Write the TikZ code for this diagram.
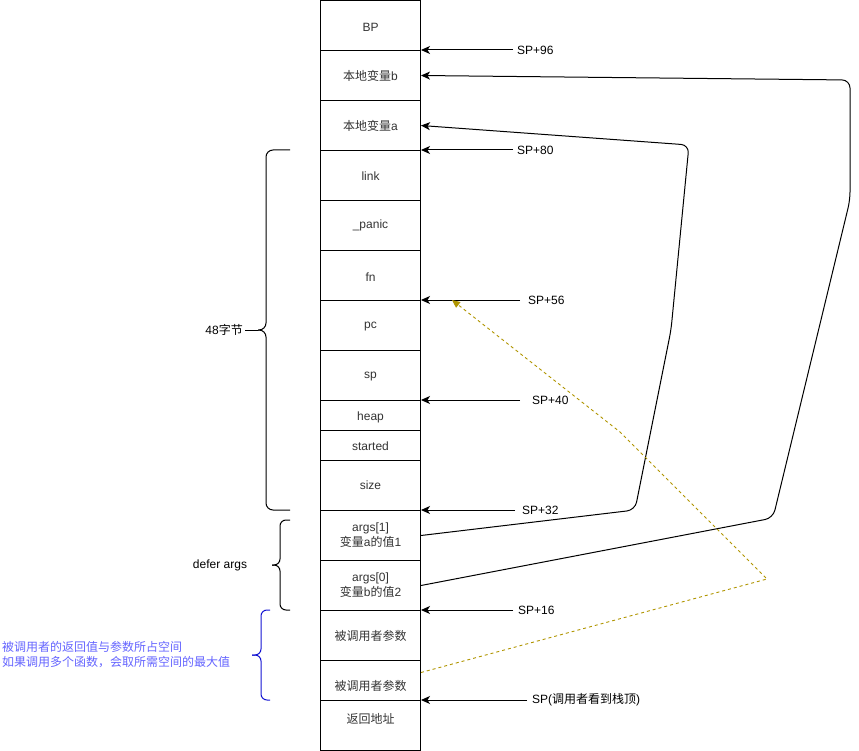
\documentclass[tikz,border=0pt]{standalone}
\usepackage{fontspec}
\setmainfont{Liberation Sans}
\newfontfamily\cjk{Noto Sans CJK SC}
\usetikzlibrary{arrows.meta,calc}
\definecolor{olivel}{HTML}{B09500}
\definecolor{bluebr}{RGB}{20,20,210}
\definecolor{bluetx}{RGB}{100,100,255}
\definecolor{celltx}{HTML}{333333}
\begin{document}
\begin{tikzpicture}[x=1pt,y=-1pt,
  every node/.style={font=\fontsize{12}{15}\selectfont},
  cell/.style={draw,line width=1pt,minimum width=100pt,inner sep=0pt,text=celltx,align=center,anchor=north west},
  sparrow/.style={-{Stealth[length=9pt,width=8pt,inset=2.5pt]},line width=1pt},
  splabel/.style={anchor=west,inner ysep=1pt},
  brace/.style={line width=1pt,rounded corners=7pt},
  olivedash/.style={draw=olivel,line width=0.9pt,dash pattern=on 3pt off 3pt,-{Triangle[length=8pt,width=7pt,fill=olivel]}}]
\useasboundingbox (0,0) rectangle (859,751);

% stack cells
\node[cell,minimum height=50pt] (bp) at (320,0) {\raisebox{-1.5pt}[\height][\depth]{BP}};
\node[cell,minimum height=50pt] (vb) at (320,50) {{\cjk 本地变量}b};
\node[cell,minimum height=50pt] (va) at (320,100) {{\cjk 本地变量}a};
\node[cell,minimum height=50pt] (link) at (320,150) {\raisebox{-1pt}[\height][\depth]{link}};
\node[cell,minimum height=50pt] (panic) at (320,200) {\_panic};
\node[cell,minimum height=50pt] (fn) at (320,250) {\raisebox{-1.5pt}[\height][\depth]{fn}};
\node[cell,minimum height=50pt] (pc) at (320,300) {\raisebox{-1.5pt}[\height][\depth]{pc}};
\node[cell,minimum height=50pt] (sp) at (320,350) {\raisebox{-1.5pt}[\height][\depth]{sp}};
\node[cell,minimum height=30pt] (heap) at (320,400) {\raisebox{-1.5pt}[\height][\depth]{heap}};
\node[cell,minimum height=30pt] (started) at (320,430) {\raisebox{-1pt}[\height][\depth]{started}};
\node[cell,minimum height=50pt] (size) at (320,460) {size};
\node[cell,minimum height=50pt] (aone) at (320,510) {args[1]\\{\cjk 变量}a{\cjk 的值}1};
\node[cell,minimum height=50pt] (azero) at (320,560) {args[0]\\{\cjk 变量}b{\cjk 的值}2};
\node[cell,minimum height=50pt] (pone) at (320,610) {{\cjk 被调用者参数}};
\node[cell,minimum height=40pt] (ptwo) at (320,660) {\raisebox{-5pt}[\height][\depth]{\cjk 被调用者参数}};
\node[cell,minimum height=50pt] (ret) at (320,700) {\raisebox{7pt}[\height][\depth]{\cjk 返回地址}};

% SP labels and arrows
\node[splabel,inner xsep=4pt] (s96) at (513,50) {SP+96};
\node[splabel,inner xsep=4pt] (s80) at (513,150) {SP+80};
\node[splabel,inner xsep=8pt] (s56) at (520,300) {SP+56};
\node[splabel,inner xsep=12pt] (s40) at (520,400) {SP+40};
\node[splabel,inner xsep=7pt] (s32) at (515,510) {SP+32};
\node[splabel,inner xsep=5pt] (s16) at (513,610) {SP+16};
\node[splabel,inner xsep=5pt] (s0) at (527,700) {SP({\cjk 调用者看到栈顶})};
\draw[sparrow] (s96.west) -- (vb.north east);
\draw[sparrow] (s80.west) -- (link.north east);
\draw[sparrow] (s56.west) -- (pc.north east);
\draw[sparrow] (s40.west) -- (heap.north east);
\draw[sparrow] (s32.west) -- (aone.north east);
\draw[sparrow] (s16.west) -- (pone.north east);
\draw[sparrow] (s0.west) -- (ret.north east);

% long connectors
\draw[sparrow,rounded corners=8pt] (aone.east) -- (635,510) -- (671,330) -- (689,145) -- (va.east);
\draw[sparrow,rounded corners=8pt] (azero.east) -- (773,518) -- (850,200) -- (850,80) -- (vb.east);

% dashed olive connector
\coordinate (dstart) at ($(ptwo.east)+(0,-8)$);
\coordinate (dend) at (452,300);
\draw[olivedash] (dstart) -- (767,579) -- (620,432) -- (dend);

% 48 bytes brace
\coordinate (tip48) at (258,330);
\draw[brace] (290,150) -| (266,330) -- (tip48);
\draw[brace] (290,510) -| (266,330) -- (tip48);
\node[anchor=east,inner sep=2pt] (l48) at (245,330) {48{\cjk 字节}};
\draw[line width=1pt] (l48.east) -- (tip48);

% defer args brace
\draw[brace,rounded corners=6pt] (290,520) -| (280,565) -- (272,565);
\draw[brace,rounded corners=6pt] (290,610) -| (280,565) -- (272,565);
\node (ldefer) at (220,565) {defer args};

% blue brace
\draw[brace,draw=bluebr,rounded corners=6pt] (270,610) -| (261,655) -- (252,655);
\draw[brace,draw=bluebr,rounded corners=6pt] (270,700) -| (261,655) -- (252,655);
\node[anchor=west,inner sep=0pt,align=left,text=bluetx,font=\fontsize{12}{15}\selectfont\cjk] (lblue) at (2,655) {被调用者的返回值与参数所占空间\\如果调用多个函数，会取所需空间的最大值};
\end{tikzpicture}
\end{document}
